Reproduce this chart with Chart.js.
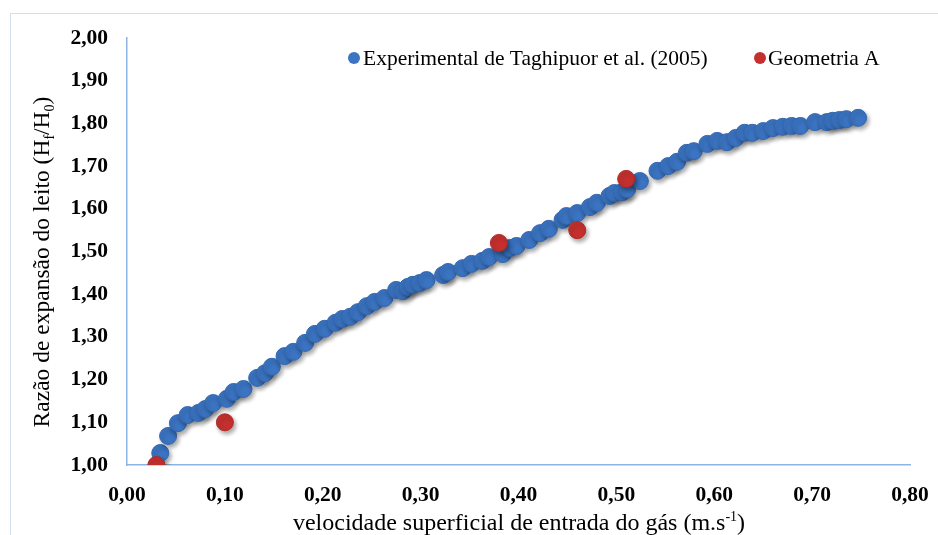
<!DOCTYPE html>
<html>
<head>
<meta charset="utf-8">
<script src="https://cdn.jsdelivr.net/npm/chart.js@4.4.0/dist/chart.umd.min.js"></script>
<style>
  body { margin: 0; background: #fff; }
  #wrap { position: relative; width: 938px; height: 535px; overflow: hidden; }
  #frame { position: absolute; left: 10px; top: 13px; width: 1000px; height: 600px; border: 1px solid #d5deeb; }
  canvas { position: absolute; left: 0; top: 0; }
</style>
</head>
<body>
<div id="wrap">
  <div id="frame"></div>
  <canvas id="chart" width="938" height="535"></canvas>
</div>
<script>
// experimental points (Taghipuor et al. 2005)
let expX = [0.034, 0.042, 0.052, 0.062, 0.073, 0.080, 0.088, 0.102, 0.109, 0.119,
  0.133, 0.141, 0.148, 0.161, 0.170, 0.182, 0.192, 0.202, 0.213, 0.220,
  0.228, 0.236, 0.245, 0.253, 0.263, 0.275, 0.282, 0.287, 0.292, 0.299,
  0.306, 0.323, 0.328, 0.343, 0.352, 0.363, 0.370, 0.384, 0.391, 0.398,
  0.411, 0.422, 0.431, 0.445, 0.449, 0.460, 0.473, 0.480, 0.493, 0.498,
  0.506, 0.511, 0.524, 0.542, 0.553, 0.562, 0.572, 0.579, 0.593, 0.603,
  0.613, 0.622, 0.631, 0.639, 0.650, 0.660, 0.670, 0.679, 0.688, 0.703,
  0.715, 0.721, 0.728, 0.735, 0.747];
let expY = [1.028, 1.068, 1.098, 1.117, 1.122, 1.131, 1.145, 1.155, 1.171, 1.178,
  1.204, 1.215, 1.230, 1.255, 1.265, 1.286, 1.307, 1.319, 1.333, 1.342,
  1.347, 1.358, 1.372, 1.382, 1.391, 1.410, 1.407, 1.417, 1.422, 1.426,
  1.433, 1.445, 1.452, 1.461, 1.471, 1.478, 1.487, 1.494, 1.508, 1.513,
  1.527, 1.543, 1.553, 1.574, 1.583, 1.590, 1.604, 1.614, 1.630, 1.637,
  1.639, 1.646, 1.665, 1.689, 1.700, 1.710, 1.731, 1.735, 1.752, 1.759,
  1.756, 1.766, 1.778, 1.778, 1.782, 1.789, 1.792, 1.794, 1.794, 1.803,
  1.803, 1.806, 1.808, 1.810, 1.813];

// simulated points (Geometria A)
let geoX = [0.03, 0.10, 0.38, 0.46, 0.51];
let geoY = [1.00, 1.10, 1.52, 1.55, 1.67];

let xTicks = [0, 0.1, 0.2, 0.3, 0.4, 0.5, 0.6, 0.7, 0.8];
let yTicks = [1.0, 1.1, 1.2, 1.3, 1.4, 1.5, 1.6, 1.7, 1.8, 1.9, 2.0];

let seriesNames = ['Experimental de Taghipuor et al. (2005)', 'Geometria A'];

const serif = "'Liberation Serif', 'Times New Roman', serif";
const axisBlue = '#8fb4e3';

let toPoints = (xs, ys) => xs.map((x, i) => ({ x: x, y: ys[i] }));
let fmt = v => v.toFixed(2).replace('.', ',');

// draws axis titles (with sub/superscripts) and the legend
let decorations = {
  id: 'decorations',
  beforeDatasetsDraw(chart) {
    chart.ctx.save();
    chart.ctx.shadowColor = 'rgba(0,0,0,0.35)';
    chart.ctx.shadowBlur = 4;
    chart.ctx.shadowOffsetX = 2;
    chart.ctx.shadowOffsetY = 3;
  },
  afterDatasetsDraw(chart) {
    chart.ctx.restore();
  },
  afterDraw(chart) {
    const ctx = chart.ctx;
    ctx.save();
    ctx.fillStyle = '#000';
    ctx.textBaseline = 'alphabetic';

    // runs: [text, size, dy]
    let drawRuns = (runs, x, y) => {
      let cx = x;
      runs.forEach(r => {
        ctx.font = r[1] + 'px ' + serif;
        ctx.fillText(r[0], cx, y + r[2]);
        cx += ctx.measureText(r[0]).width;
      });
    };
    let runsWidth = runs => runs.reduce((w, r) => {
      ctx.font = r[1] + 'px ' + serif;
      return w + ctx.measureText(r[0]).width;
    }, 0);

    // x title
    let xRuns = [['velocidade superficial de entrada do gás (m.s', 24, 0], ['-1', 14, -9], [')', 24, 0]];
    drawRuns(xRuns, 519 - runsWidth(xRuns) / 2, 530);

    // y title
    let yRuns = [['Razão de expansão do leito (H', 23.5, 0], ['f', 14, 5], ['/H', 23.5, 0], ['0', 14, 5], [')', 23.5, 0]];
    ctx.save();
    ctx.translate(49, 262);
    ctx.rotate(-Math.PI / 2);
    drawRuns(yRuns, -runsWidth(yRuns) / 2, 0);
    ctx.restore();

    // legend
    let legendPos = [[354, 363], [760, 768]];
    chart.data.datasets.forEach((ds, i) => {
      ctx.beginPath();
      ctx.arc(legendPos[i][0], 58, 6, 0, Math.PI * 2);
      ctx.fillStyle = ds.backgroundColor;
      ctx.fill();
      ctx.fillStyle = '#000';
      ctx.font = '21.5px ' + serif;
      ctx.textBaseline = 'middle';
      ctx.fillText(ds.label, legendPos[i][1], 59);
    });
    ctx.restore();
  }
};

const ctx = document.getElementById('chart').getContext('2d');

new Chart(ctx, {
  type: 'scatter',
  data: {
    datasets: [{
      label: seriesNames[0],
      data: toPoints(expX, expY),
      backgroundColor: '#3b74c2',
      borderColor: '#3467b0',
      borderWidth: 1,
      pointRadius: 8.5,
      order: 1
    }, {
      label: seriesNames[1],
      data: toPoints(geoX, geoY),
      backgroundColor: '#c4302e',
      borderColor: '#b02a28',
      borderWidth: 1,
      pointRadius: 8.5,
      order: 0
    }]
  },
  options: {
    responsive: false,
    animation: false,
    events: [],
    layout: { padding: { left: 0, right: 28, top: 38, bottom: 0 } },
    plugins: {
      legend: { display: false },
      tooltip: { enabled: false }
    },
    scales: {
      x: {
        type: 'linear',
        min: 0,
        max: 0.8,
        afterBuildTicks: scale => { scale.ticks = xTicks.map(v => ({ value: v })); },
        afterFit: scale => { scale.height = 70; scale.paddingLeft = 0; scale.paddingRight = 0; },
        grid: { display: false, drawTicks: false },
        border: { display: true, color: axisBlue, width: 1.5 },
        ticks: {
          padding: 18,
          color: '#000',
          font: { family: serif, size: 21.5, weight: 'bold' },
          maxRotation: 0,
          callback: v => fmt(v)
        }
      },
      y: {
        type: 'linear',
        min: 1,
        max: 2,
        afterBuildTicks: scale => { scale.ticks = yTicks.map(v => ({ value: v })); },
        afterFit: scale => { scale.width = 127; scale.paddingTop = 0; scale.paddingBottom = 0; },
        grid: { display: false, drawTicks: false },
        border: { display: true, color: axisBlue, width: 1.5 },
        ticks: {
          padding: 19,
          color: '#000',
          font: { family: serif, size: 21.5, weight: 'bold' },
          callback: v => fmt(v)
        }
      }
    }
  },
  plugins: [decorations]
});
</script>
</body>
</html>
